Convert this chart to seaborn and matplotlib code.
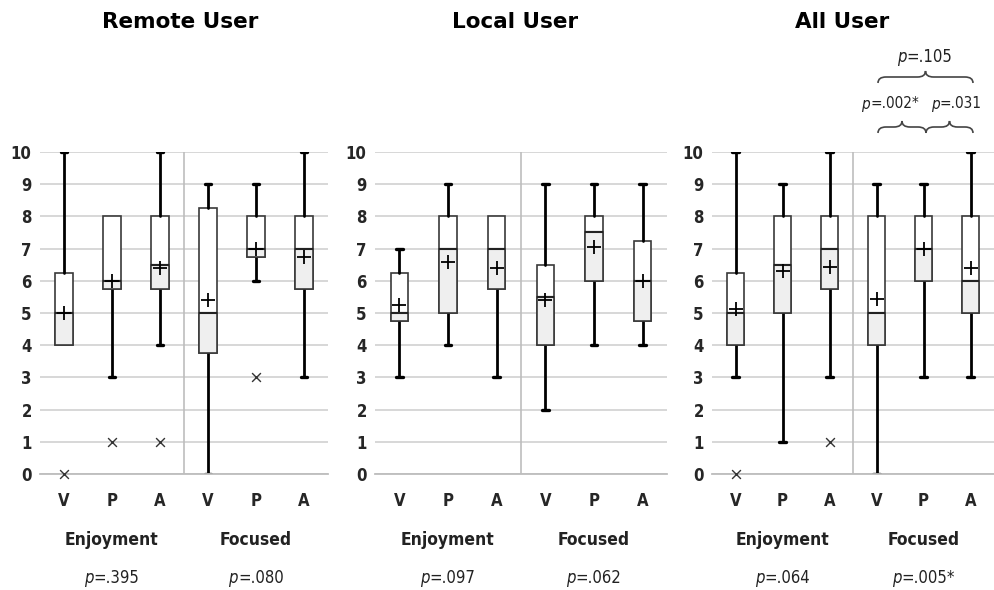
import numpy as np
import matplotlib
matplotlib.use('Agg')
import matplotlib.pyplot as plt
from matplotlib.path import Path
from matplotlib.patches import PathPatch
from matplotlib.offsetbox import TextArea, HPacker, AnnotationBbox
import seaborn as sns

# Box statistics
categories = ['V', 'P', 'A', 'V', 'P', 'A']
groups = ['Enjoyment', 'Focused']

remote_whislo = [4, 3, 4, 0, 6, 3]
remote_q1 = [4, 5.75, 5.75, 3.75, 6.75, 5.75]
remote_med = [5, 6, 6.5, 5, 7, 7]
remote_q3 = [6.25, 8, 8, 8.25, 8, 8]
remote_whishi = [10, 8, 10, 9, 9, 10]
remote_mean = [5.0, 6.0, 6.4, 5.4, 7.0, 6.75]
remote_outliers = [[0], [1], [1], [], [3], []]
remote_p = ['.395', '.080']

local_whislo = [3, 4, 3, 2, 4, 4]
local_q1 = [4.75, 5, 5.75, 4, 6, 4.75]
local_med = [5, 7, 7, 5.5, 7.5, 6]
local_q3 = [6.25, 8, 8, 6.5, 8, 7.25]
local_whishi = [7, 9, 8, 9, 9, 9]
local_mean = [5.25, 6.57, 6.4, 5.4, 7.05, 6.0]
local_outliers = [[], [], [], [], [], []]
local_p = ['.097', '.062']

all_whislo = [3, 1, 3, 0, 3, 3]
all_q1 = [4, 5, 5.75, 4, 6, 5]
all_med = [5, 6.5, 7, 5, 7, 6]
all_q3 = [6.25, 8, 8, 8, 8, 8]
all_whishi = [10, 9, 10, 9, 9, 10]
all_mean = [5.13, 6.3, 6.43, 5.43, 7.0, 6.4]
all_outliers = [[0], [], [1], [], [], []]
all_p = ['.064', '.005*']
brace_p = ['.105', '.002*', '.031']

sns.set_style('white')
plt.rcParams['font.family'] = ['DejaVu Sans']
plt.rcParams['font.stretch'] = 'condensed'

fig = plt.figure(figsize=(9.94, 5.9), dpi=100)
W, H = 994, 590

EDGE = '#3a3a3a'
GRID = '#d4d4d4'
GRAY = '#efefef'
TXT = '#222222'


def ptext(ax, x, y, rest, size, coords):
    # italic "p" followed by upright "=value", centred as one line
    box = HPacker(children=[TextArea('p', textprops=dict(style='italic', size=size, color=TXT)),
                            TextArea('=' + rest, textprops=dict(size=size, color=TXT))],
                  sep=0, pad=0, align='baseline')
    ab = AnnotationBbox(box, (x, y), xycoords=coords, frameon=False,
                        box_alignment=(0.5, 0.5), pad=0, annotation_clip=False)
    ax.add_artist(ab)


def draw_panel(left_px, unit_px, right_px, title, title_x, whislo, q1, med, q3, whishi, mean, outliers, pvals):
    y0, y1 = 474, 152
    ax = fig.add_axes([left_px / W, 1 - y0 / H, (right_px - left_px) / W, (y0 - y1) / H])
    pos = np.arange(len(categories))
    full = [dict(whislo=a, q1=b, med=c, q3=d, whishi=e, fliers=[])
            for a, b, c, d, e in zip(whislo, q1, med, q3, whishi)]
    parts = ax.bxp(full, positions=pos, widths=0.36, patch_artist=True, showfliers=False,
                   boxprops=dict(facecolor='white', edgecolor=EDGE, linewidth=1.2),
                   whiskerprops=dict(color='black', linewidth=2),
                   capprops=dict(color='black', linewidth=2.4),
                   medianprops=dict(color='#222222', linewidth=1.5),
                   capwidths=0.14, manage_ticks=False, zorder=2)
    # hide caps sitting on a box edge
    for i in range(len(pos)):
        if whislo[i] == q1[i]:
            parts['caps'][2 * i].set_visible(False)
        if whishi[i] == q3[i]:
            parts['caps'][2 * i + 1].set_visible(False)
    lower = [dict(whislo=b, q1=b, med=c, q3=c, whishi=c, fliers=[]) for b, c in zip(q1, med)]
    ax.bxp(lower, positions=pos, widths=0.36, patch_artist=True, showfliers=False, showcaps=False,
           boxprops=dict(facecolor=GRAY, edgecolor=EDGE, linewidth=1.2),
           whiskerprops=dict(linewidth=0),
           medianprops=dict(color='#222222', linewidth=1.5),
           manage_ticks=False, zorder=3)

    sns.scatterplot(x=pos, y=mean, marker='+', s=95, color='black', linewidth=1.3,
                    ax=ax, zorder=6, clip_on=False, legend=False)
    ox = [p for p, o in zip(pos, outliers) for _ in o]
    oy = [v for o in outliers for v in o]
    if ox:
        sns.scatterplot(x=ox, y=oy, marker='x', s=40, color='#333333', linewidth=1.0,
                        ax=ax, zorder=6, clip_on=False, legend=False)

    ax.set_xlim(-0.5, -0.5 + (right_px - left_px) / unit_px)
    ax.set_ylim(0, 10)
    ax.set_yticks(range(0, 11))
    ax.set_yticklabels([str(v) for v in range(0, 11)], fontweight='bold', fontsize=12)
    ax.yaxis.grid(True, color=GRID, linewidth=1.3)
    ax.set_axisbelow(True)
    ax.axvline(2.5, color='#bdbdbd', linewidth=1.2, zorder=1)
    for s in ['left', 'top', 'right']:
        ax.spines[s].set_visible(False)
    ax.spines['bottom'].set_color('#bdbdbd')
    ax.spines['bottom'].set_linewidth(1.3)
    ax.tick_params(axis='y', length=4, color=GRID, width=1.3, pad=2)
    ax.set_xticks(pos)
    ax.set_xticklabels(categories, fontweight='bold', fontsize=12)
    ax.tick_params(axis='x', which='major', length=0, pad=13)
    ax.set_xticks([-0.5, 2.5, 5.5], minor=True)
    ax.tick_params(axis='x', which='minor', length=4, color='#bdbdbd', width=1.2)

    tr = ax.get_xaxis_transform()
    for gx, g, p in zip([1, 4], groups, pvals):
        ax.text(gx, -66 / 322, g, transform=tr, ha='center', va='center',
                fontweight='bold', fontsize=12.5, color=TXT)
        ptext(ax, gx, -104 / 322, p, 12, tr)
    fig.text(title_x / W, 1 - 22 / H, title, ha='center', va='center',
             fontsize=15.5, fontweight='heavy', fontstretch='normal', color='black')
    return ax


draw_panel(40, 48.0, 328, 'Remote User', 180, remote_whislo, remote_q1, remote_med, remote_q3,
           remote_whishi, remote_mean, remote_outliers, remote_p)
draw_panel(375, 48.7, 667, 'Local User', 515, local_whislo, local_q1, local_med, local_q3,
           local_whishi, local_mean, local_outliers, local_p)
draw_panel(712, 48.3, 994, 'All User', 842, all_whislo, all_q1, all_med, all_q3,
           all_whishi, all_mean, all_outliers, all_p)

# curly braces with pairwise p-values over the "Focused" group in All User
over = fig.add_axes([0, 0, 1, 1])
over.set_xlim(0, W)
over.set_ylim(H, 0)
over.axis('off')


def brace(x0, x1, yb, d=6, r=8):
    xm = (x0 + x1) / 2
    verts = [(x0, yb + d), (x0, yb), (x0 + r, yb),
             (xm - r, yb), (xm, yb), (xm, yb - d),
             (xm, yb), (xm + r, yb),
             (x1 - r, yb), (x1, yb), (x1, yb + d)]
    codes = [Path.MOVETO, Path.CURVE3, Path.CURVE3,
             Path.LINETO, Path.CURVE3, Path.CURVE3,
             Path.CURVE3, Path.CURVE3,
             Path.LINETO, Path.CURVE3, Path.CURVE3]
    over.add_patch(PathPatch(Path(verts, codes), facecolor='none', edgecolor='#444444', linewidth=1.2))


brace(878, 973, 77)
brace(878, 926, 127)
brace(926, 973, 127)
ptext(over, 925, 57, brace_p[0], 12, 'data')
ptext(over, 890, 104, brace_p[1], 11, 'data')
ptext(over, 956, 104, brace_p[2], 11, 'data')

fig.savefig('out.png', dpi=100)
